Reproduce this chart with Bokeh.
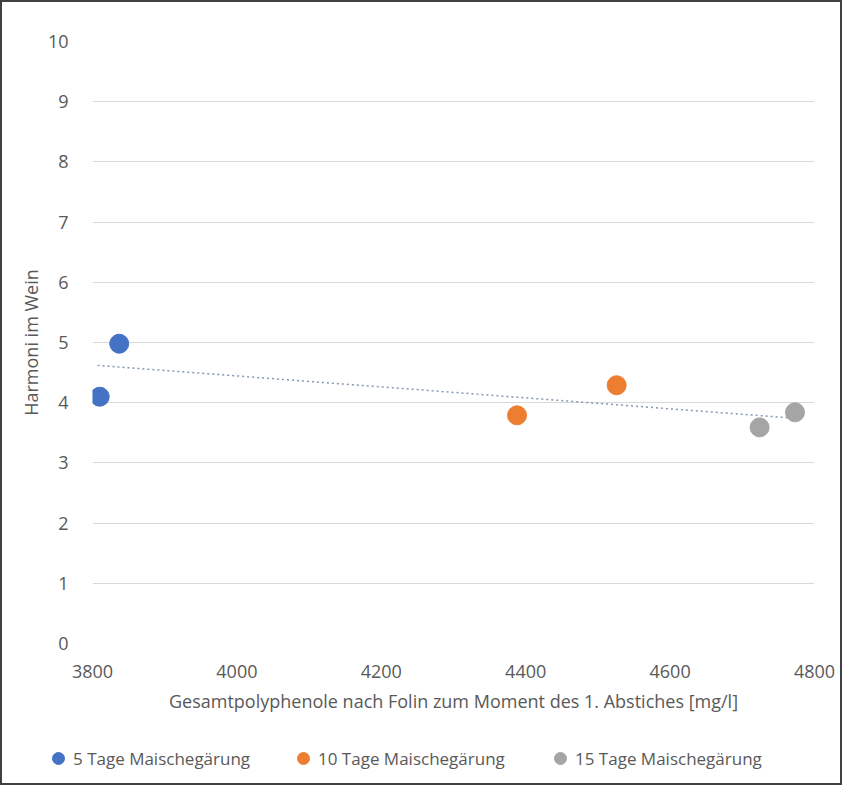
from bokeh.plotting import figure
from bokeh.layouts import column
from bokeh.models import Legend, LegendItem, FixedTicker, Range1d
from bokeh.embed import file_html
from bokeh.resources import INLINE

series_names = ["5 Tage Maischegärung", "10 Tage Maischegärung", "15 Tage Maischegärung"]
series_colors = ["#4472C4", "#ED7D31", "#A5A5A5"]
x5 = [3810, 3837]
y5 = [4.1, 4.98]
x10 = [4388, 4526]
y10 = [3.79, 4.29]
x15 = [4724, 4773]
y15 = [3.59, 3.84]
trend_x = [3807, 4774]
trend_y = [4.62, 3.74]
x_ticks = [3800, 4000, 4200, 4400, 4600, 4800]
y_ticks = [0, 1, 2, 3, 4, 5, 6, 7, 8, 9, 10]

FONT = "Open Sans"
TXT = "#595959"
W, H1, H2 = 838, 728, 53
p = figure(width=W, height=H1, output_backend="svg", toolbar_location=None,
           x_range=Range1d(3800, 4800), y_range=Range1d(0, 10),
           min_border_left=90, min_border_right=26, min_border_top=39, min_border_bottom=87)
p.frame_align = False
p.outline_line_color = None
p.xgrid.grid_line_color = None
p.ygrid.grid_line_color = "#d9d9d9"
p.ygrid.grid_line_width = 1.2

for ax in (p.xaxis[0], p.yaxis[0]):
    ax.axis_line_color = None
    ax.major_tick_line_color = None
    ax.minor_tick_line_color = None
    ax.major_label_text_color = TXT
    ax.major_label_text_font = FONT
    ax.major_label_text_font_size = "18px"
    ax.axis_label_text_color = TXT
    ax.axis_label_text_font = FONT
    ax.axis_label_text_font_size = "18px"
    ax.axis_label_text_font_style = "normal"

p.xaxis.ticker = FixedTicker(ticks=x_ticks)
p.yaxis.ticker = FixedTicker(ticks=y_ticks)
p.xaxis.major_label_standoff = 15
p.yaxis.major_label_standoff = 18
p.xaxis.axis_label = "Gesamtpolyphenole nach Folin zum Moment des 1. Abstiches [mg/l]"
p.yaxis.axis_label = "Harmoni im Wein"
p.xaxis.axis_label_standoff = 8
p.yaxis.axis_label_standoff = 2

p.line(trend_x, trend_y, line_color="#8497B0", line_width=1.5, line_dash="2 3")

for xs, ys, c in zip([x5, x10, x15], [y5, y10, y15], series_colors):
    p.scatter(xs, ys, size=19, fill_color=c, line_color=c)

# legend strip below the chart
lf = figure(width=W, height=H2, output_backend="svg", toolbar_location=None,
            x_range=Range1d(0, 1), y_range=Range1d(0, 1),
            x_axis_type=None, y_axis_type=None,
            min_border_left=0, min_border_right=0, min_border_top=0, min_border_bottom=0)
lf.frame_align = False
lf.outline_line_color = None
lf.xgrid.visible = False
lf.ygrid.visible = False
legend_x = [41, 286, 543]
nan = float("nan")
for name, c, lx in zip(series_names, series_colors, legend_x):
    r = lf.scatter([nan], [nan], size=13, fill_color=c, line_color=c)
    lg = Legend(items=[LegendItem(label=name, renderers=[r])], location=(lx, 10),
                orientation="horizontal", padding=0, margin=0, spacing=0,
                glyph_width=30, glyph_height=30, label_standoff=0,
                label_text_font=FONT, label_text_font_size="17px", label_text_color=TXT,
                background_fill_alpha=0, border_line_color=None)
    lf.add_layout(lg, "center")

page = column(p, lf, spacing=0)
page.styles = {"border": "2px solid #404040"}

open("out.html", "w").write(file_html(page, INLINE))
